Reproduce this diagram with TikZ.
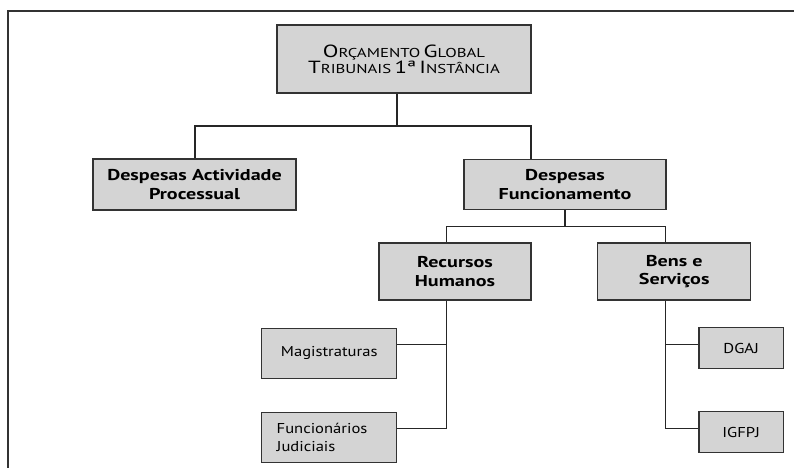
\documentclass[tikz,border=0pt]{standalone}
\usepackage{fontspec}
\setmainfont{PT Sans}
\newfontfamily\headfont[FakeStretch=1.28]{PT Sans}
\newfontfamily\leaffont[FakeStretch=1.16]{PT Sans}
\newfontfamily\titlefont[FakeStretch=1.3]{PT Sans}
\usepackage{tikz}
\usetikzlibrary{positioning,calc}

% fake small caps for the title box
\newcommand{\capbig}[1]{{\fontsize{17.6}{21.6}\selectfont #1}}
\newcommand{\capsmall}[1]{{\fontsize{12.9}{21.6}\selectfont #1}}

\begin{document}
\begin{tikzpicture}[
    x=1pt, y=-1pt,
    box/.style={draw=black!80, line width=1.3pt, fill=black!17, rectangle, align=center, inner sep=0pt},
    headbox/.style={box, font=\headfont\bfseries\fontsize{15.7}{18.8}\selectfont},
    leafbox/.style={box, font=\leaffont\fontsize{14.3}{18.3}\selectfont},
    link/.style={line width=1.3pt, black!85},
    mainlink/.style={line width=2pt, black!85},
]
    \useasboundingbox (0,0) rectangle (794,468);

    % page frame
    \draw[line width=2pt, black!80] (794,11) -- (8,11) -- (8,468);

    % Top of the tree
    \node[box, font=\titlefont, minimum width=254pt, minimum height=68pt] (top) at (404,59)
        {\capbig{O}\capsmall{RÇAMENTO} \capbig{G}\capsmall{LOBAL}\\
         \capbig{T}\capsmall{RIBUNAIS} \capbig{1ª} \capbig{I}\capsmall{NSTÂNCIA}};

    % Two kinds of expenses
    \node[headbox, minimum width=203pt, minimum height=51pt] (actv) at (194.5,184.5) {Despesas Actividade\\Processual};
    \node[headbox, minimum width=202pt, minimum height=50pt] (func) at (565,184.5) {Despesas\\Funcionamento};

    % Running costs
    \node[headbox, minimum width=152pt, minimum height=57pt] (rh) at (455,271.6) {Recursos\\Humanos};
    \node[headbox, minimum width=153pt, minimum height=57pt] (bens) at (674.2,271.6) {Bens e\\Serviços};

    % Leaves
    \node[leafbox, minimum width=135pt, minimum height=50pt] (mag) at (329.2,353.3) {Magistraturas};
    \node[leafbox, minimum width=135pt, minimum height=50.4pt, text width=105pt, align=left] (funj) at (329.2,437.5) {Funcionários\\Judiciais};
    \node[leafbox, minimum width=84.3pt, minimum height=40.6pt] (dgaj) at (741.2,348) {DGAJ};
    \node[leafbox, minimum width=84.3pt, minimum height=41pt] (igfpj) at (741.2,432.2) {IGFPJ};

    % Connectors
    \coordinate (split1) at (396.5,126);
    \coordinate (split2) at (565,226.5);
    \draw[mainlink] ([xshift=-7.5pt]top.south) -- (split1);
    \draw[mainlink] (split1) -| (actv.north);
    \draw[mainlink] (split1) -| ([xshift=-34.4pt]func.north);
    \draw[link] (func.south) -- (split2);
    \draw[link] (split2) -| ([xshift=-8.3pt]rh.north);
    \draw[link] (split2) -| ([xshift=-8.7pt]bens.north);
    \draw[link] ([xshift=-8.3pt]rh.south) |- ([yshift=9.2pt]funj.east);
    \draw[link] ([yshift=9pt]mag.east) -| ([xshift=-8.3pt]rh.south);
    \draw[link] ([xshift=-8.7pt]bens.south) |- ([yshift=3.9pt]igfpj.west);
    \draw[link] ([yshift=3.7pt]dgaj.west) -| ([xshift=-8.7pt]bens.south);

\end{tikzpicture}
\end{document}
